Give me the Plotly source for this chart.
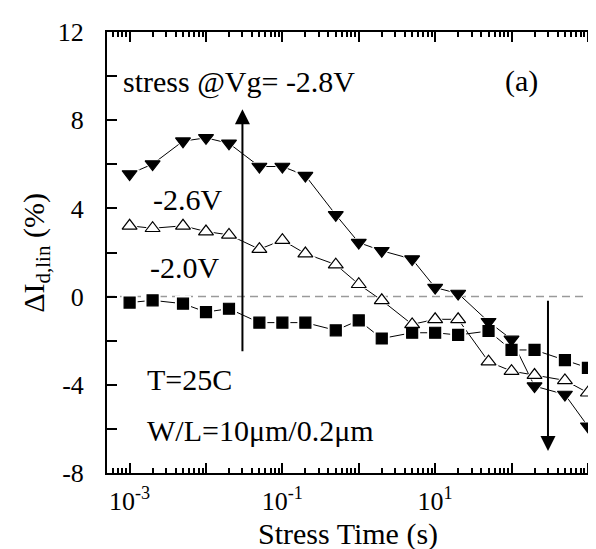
import math
import plotly.graph_objects as go

# ---- data ----
stress_time = [0.001, 0.002, 0.005, 0.01, 0.02, 0.05, 0.1, 0.2, 0.5,
               1, 2, 5, 10, 20, 50, 100, 200, 500, 1000]
vg_m28 = [5.56, 6.01, 7.05, 7.2, 6.95, 5.9, 5.9, 5.49, 3.71,
          2.45, 2.08, 1.7, 0.41, 0.14, -1.14, -1.94, -4.06, -4.44, -5.88]
vg_m26 = [3.21, 3.1, 3.21, 2.95, 2.8, 2.15, 2.56, 1.95, 1.45,
          0.56, -0.17, -1.26, -1.03, -1.03, -2.95, -3.38, -3.56, -3.8, -4.36]
vg_m20 = [-0.27, -0.17, -0.32, -0.7, -0.55, -1.18, -1.18, -1.18, -1.53,
          -1.08, -1.9, -1.64, -1.64, -1.74, -1.56, -2.42, -2.42, -2.88, -3.23]

x_tickvals = [1e-3, 1e-1, 1e1, 1e3]
x_ticktext = ["10<sup>-3</sup>", "10<sup>-1</sup>", "10<sup>1</sup>", "10<sup>3</sup>"]
x_odd_decades = [1e-2, 1e0, 1e2]
y_tickvals = [-8, -4, 0, 4, 8, 12]
y_ticktext = ["-8", "-4", "0", "4", "8", "12"]

FONT = "Liberation Serif, Times New Roman, serif"
XRANGE = [-3.296, 3.132]

fig = go.Figure()

series = [
    (vg_m28, "triangle-down", "black", 13),
    (vg_m26, "triangle-up", "white", 13),
    (vg_m20, "square", "black", 11),
]

for vals, sym, col, sz in series:
    fig.add_trace(go.Scatter(x=stress_time, y=vals, mode="lines",
                             line=dict(color="black", width=1),
                             showlegend=False, hoverinfo="skip"))
for vals, sym, col, sz in series:
    fig.add_trace(go.Scatter(x=stress_time, y=vals, mode="markers",
                             marker=dict(symbol=sym, size=sz + 5, color="white",
                                         line=dict(width=0)),
                             showlegend=False, hoverinfo="skip"))
for vals, sym, col, sz in series:
    fig.add_trace(go.Scatter(x=stress_time, y=vals, mode="markers",
                             marker=dict(symbol=sym, size=sz, color=col,
                                         line=dict(color="black", width=1.2)),
                             showlegend=False))

# invisible trace that carries the overlay axis used for the odd-decade major ticks
fig.add_trace(go.Scatter(x=[x_odd_decades[0]], y=[0], xaxis="x2", mode="markers",
                         marker=dict(opacity=0), showlegend=False, hoverinfo="skip"))

fig.add_shape(type="line", xref="paper", yref="y", x0=0, x1=1, y0=0, y1=0,
              line=dict(color="#9a9a9a", width=1.5, dash="8px,5px"), layer="below")

up_t = 0.03
down_t = 300
fig.add_annotation(x=math.log10(up_t), y=8.5, ax=math.log10(up_t), ay=-2.55,
                   xref="x", yref="y", axref="x", ayref="y", text="",
                   showarrow=True, arrowhead=2, arrowsize=1.5, arrowwidth=2,
                   arrowcolor="black")
fig.add_annotation(x=math.log10(down_t), y=-7.0, ax=math.log10(down_t), ay=-0.12,
                   xref="x", yref="y", axref="x", ayref="y", text="",
                   showarrow=True, arrowhead=2, arrowsize=1.5, arrowwidth=2,
                   arrowcolor="black")

labels = [
    ("stress @Vg= -2.8V", 0.028, 0.887),
    ("(a)", 0.807, 0.889),
    ("-2.6V", 0.089, 0.621),
    ("-2.0V", 0.083, 0.467),
    ("T=25C", 0.077, 0.213),
    ("W/L=10μm/0.2μm", 0.077, 0.0975),
]
for txt, px, py in labels:
    fig.add_annotation(x=px, y=py, xref="paper", yref="paper", text=txt,
                       showarrow=False, xanchor="left", yanchor="middle",
                       font=dict(family=FONT, size=30, color="black"))

fig.add_annotation(x=0.49, y=-0.138, xref="paper", yref="paper",
                   text="Stress Time (s)", showarrow=False,
                   xanchor="center", yanchor="middle",
                   font=dict(family=FONT, size=30, color="black"))
fig.add_annotation(x=-0.146, y=0.5, xref="paper", yref="paper",
                   text="ΔI<sub>d,lin</sub> (%)", showarrow=False, textangle=-90,
                   xanchor="center", yanchor="middle",
                   font=dict(family=FONT, size=30, color="black"))

minor_x = [k * 10 ** e for e in range(-4, 4) for k in range(2, 10)]

fig.update_layout(
    width=596, height=549,
    margin=dict(l=99, r=4, t=24, b=84),
    paper_bgcolor="white", plot_bgcolor="white",
    font=dict(family=FONT, color="black"),
    showlegend=False,
    xaxis=dict(type="log", range=XRANGE,
               tickmode="array", tickvals=x_tickvals, ticktext=x_ticktext,
               ticks="inside", ticklen=10, tickwidth=1.5, tickcolor="black",
               showline=True, linecolor="black", linewidth=2, mirror="allticks",
               showgrid=False, zeroline=False,
               tickfont=dict(family=FONT, size=26, color="black"),
               ticklabelstandoff=4,
               minor=dict(tickmode="array", tickvals=minor_x, ticks="inside",
                          ticklen=5, tickwidth=1.5, tickcolor="black", showgrid=False)),
    xaxis2=dict(type="log", range=XRANGE, overlaying="x", anchor="y", side="bottom",
                tickmode="array", tickvals=x_odd_decades,
                ticks="inside", ticklen=10, tickwidth=1.5, tickcolor="black",
                showticklabels=False, showline=False, mirror="allticks",
                showgrid=False, zeroline=False),
    yaxis=dict(range=[-8, 12],
               tickmode="array", tickvals=y_tickvals, ticktext=y_ticktext,
               ticks="inside", ticklen=10, tickwidth=1.5, tickcolor="black",
               showline=True, linecolor="black", linewidth=2, mirror="allticks",
               showgrid=False, zeroline=False,
               tickfont=dict(family=FONT, size=26, color="black"),
               ticklabelstandoff=16,
               minor=dict(dtick=2, ticks="inside", ticklen=5, tickwidth=1.5,
                          tickcolor="black", showgrid=False)),
)

fig.write_html("out.html")
